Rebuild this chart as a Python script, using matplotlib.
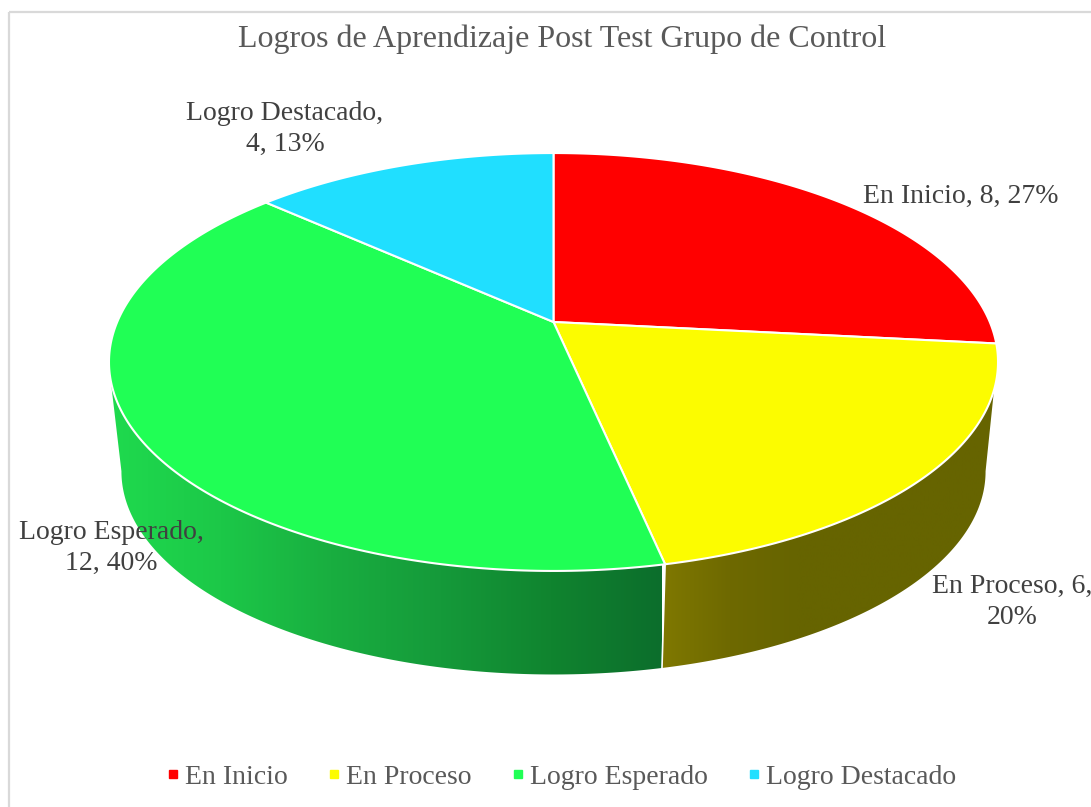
# -*- coding: utf-8 -*-
import numpy as np
import matplotlib
matplotlib.use('Agg')
import matplotlib.pyplot as plt
from matplotlib.colors import LinearSegmentedColormap
from matplotlib.lines import Line2D
from matplotlib.patches import Polygon, Rectangle

plt.rcParams['font.family'] = ['Liberation Serif', 'DejaVu Serif']

# data
categories = ['En Inicio', 'En Proceso', 'Logro Esperado', 'Logro Destacado']
values = [8, 6, 12, 4]
percents = ['27%', '20%', '40%', '13%']
colors = ['#FF0000', '#FCFC00', '#20FF55', '#20DFFF']
title = 'Logros de Aprendizaje Post Test Grupo de Control'

# label centres in pixels, with their line breaks
label_text = ['%s, %d, %s' % (categories[0], values[0], percents[0]),
              '%s, %d,\n%s' % (categories[1], values[1], percents[1]),
              '%s,\n%d, %s' % (categories[2], values[2], percents[2]),
              '%s,\n%d, %s' % (categories[3], values[3], percents[3])]
label_x = [961, 1012, 111, 285]
label_y = [196, 602, 548, 129]

# wall shading, left to right along the pixel x
green_wall = ['#1FDA4E', '#1CC848', '#19AE40', '#159A3A', '#10842F', '#0C6E2C']
yellow_wall = ['#7F7800', '#6E6900', '#666400', '#666400', '#666400', '#666400']

# geometry of the tilted disc
cx, cy = 553.5, 322
A, B, P = 436.3, 201.3, 0.1914
depth_cy = 432.5
depth_scale = 0.972


def rim(theta, centre_y=cy, scale=1.0):
    # theta clockwise from the top, projected with a bit of perspective
    u, v = np.sin(theta), np.cos(theta)
    w = 1 + P * v
    return cx + scale * A * u / w, centre_y - scale * B * v / w


fig = plt.figure(figsize=(10.91, 8.07), dpi=100)
ax = fig.add_axes([0, 0, 1, 1])
ax.set_xlim(0, 1091)
ax.set_ylim(807, 0)
ax.axis('off')

# chart frame
ax.add_patch(Rectangle((9, 12), 1200, 1000, fill=False, ec='#D9D9D9', lw=1.6, zorder=1))

total = float(sum(values))
edges = 2 * np.pi * np.cumsum([0] + values) / total

# side wall (only the front part is seen)
left_start = np.deg2rad(254)
right_start = np.deg2rad(108.5)
right_bottom = np.deg2rad(101)
left_bottom = np.deg2rad(259)
walls = [(right_start, edges[2], right_bottom, edges[2], yellow_wall, 662, 985),
         (edges[2], left_start, edges[2], left_bottom, green_wall, 110, 662)]
for t0, t1, b0, b1, ramp, x0, x1 in walls:
    top = np.linspace(t0, t1, 150)
    bot = np.linspace(b1, b0, 150)
    tx, ty = rim(top)
    bx, by = rim(bot, depth_cy, depth_scale)
    poly = Polygon(np.column_stack([np.r_[tx, bx], np.r_[ty, by]]), closed=True,
                   fc='none', ec='none', transform=ax.transData)
    ax.add_patch(poly)
    cmap = LinearSegmentedColormap.from_list('wall', ramp)
    grad = np.linspace(0, 1, 256)[None, :]
    x_end = x1 + 15 if ramp is yellow_wall else x1
    im = ax.imshow(grad, cmap=cmap, extent=[x0, x_end, 700, 300], aspect='auto', zorder=2,
                   interpolation='bilinear')
    im.set_clip_path(poly)
ax.set_xlim(0, 1091)
ax.set_ylim(807, 0)

# seam between the two visible wall pieces
sx0, sy0 = rim(edges[2])
sx1, sy1 = rim(edges[2], depth_cy, depth_scale)
ax.plot([sx0, sx1], [sy0, sy1], color='white', lw=1.2, zorder=3)

# top face
for i in range(len(values)):
    th = np.linspace(edges[i], edges[i + 1], 200)
    x, y = rim(th)
    pts = np.column_stack([np.r_[cx, x], np.r_[cy, y]])
    ax.add_patch(Polygon(pts, closed=True, fc=colors[i], ec='white', lw=1.5,
                         joinstyle='round', zorder=4))

# labels and title
for i in range(len(values)):
    ax.text(label_x[i], label_y[i], label_text[i], ha='center', va='center', fontsize=20,
            color='#404040', linespacing=1.34, zorder=6, clip_on=True)
ax.text(562, 39, title, ha='center', va='center', fontsize=23, color='#595959', zorder=6)

handles = [Line2D([], [], ls='none', marker='s', ms=5.6, mfc=c, mec=c) for c in colors]
leg = ax.legend(handles, categories, ncol=4, loc='center', bbox_to_anchor=(561 / 1091, 1 - 777 / 807),
                frameon=False, fontsize=20, labelcolor='#595959', handlelength=0.5,
                handletextpad=0.2, columnspacing=1.4, borderpad=0, borderaxespad=0)

fig.savefig('out.png', dpi=100)
